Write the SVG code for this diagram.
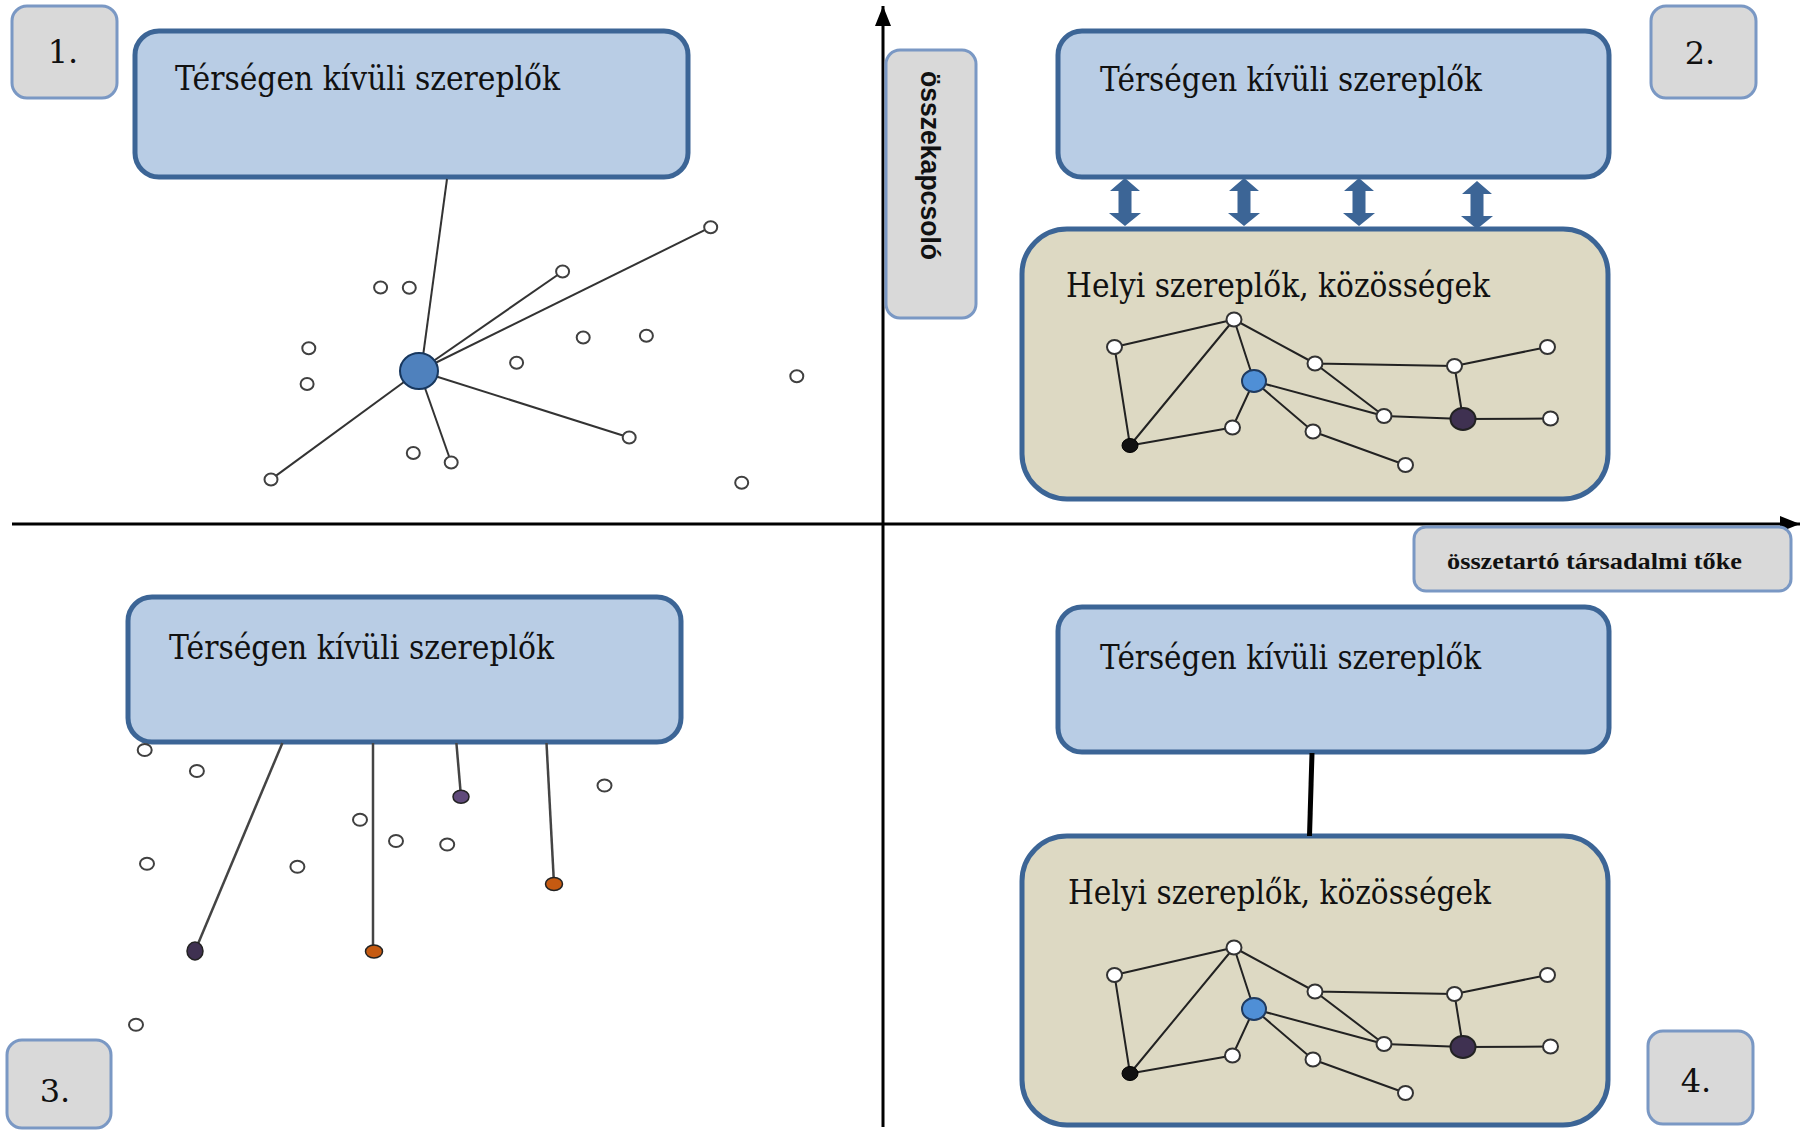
<svg xmlns="http://www.w3.org/2000/svg" xmlns:xlink="http://www.w3.org/1999/xlink" width="1806" height="1130" viewBox="0 0 1806 1130">
<style>
  .lbl{fill:#d9d9d9;stroke:#7a98c4;stroke-width:3}
  .blue{fill:#b9cde5;stroke:#3c6596;stroke-width:5}
  .tan{fill:#ddd9c3;stroke:#3c6596;stroke-width:5}
  .t{font-family:"DejaVu Serif","Liberation Serif",serif;font-size:33px;fill:#111}
  .num{font-family:"DejaVu Serif","Liberation Serif",serif;font-size:32px;fill:#111;text-anchor:middle}
  .ax{stroke:#000;stroke-width:3;fill:none}
  .e1{stroke:#333;stroke-width:2;fill:none}
  .e2{stroke:#222;stroke-width:2;fill:none}
  .e3{stroke:#444;stroke-width:2.5;fill:none}
  .o1{fill:#fff;stroke:#404040;stroke-width:2}
  .o2{fill:#fff;stroke:#333;stroke-width:2}
  .dbl{fill:#3c6596}
</style>
<defs>
  <marker id="axhead" markerUnits="userSpaceOnUse" markerWidth="22" markerHeight="18" refX="20" refY="8" orient="auto">
    <path d="M0,0 L20,8 L0,16 Z" fill="#000"/>
  </marker>
  <path id="dblArrow" d="M0,0 L15,13 L6.5,13 L6.5,35 L16,35 L0,48 L-16,35 L-6.5,35 L-6.5,13 L-15,13 Z"/>
</defs>
<rect width="1806" height="1130" fill="#fff"/>

<g id="axes">
  <line class="ax" x1="12" y1="524" x2="1800" y2="524" marker-end="url(#axhead)"/>
  <line class="ax" x1="883" y1="1127" x2="883" y2="6" stroke-width="2.5" marker-end="url(#axhead)"/>
</g>

<g id="axis-label-vertical">
  <rect class="lbl" x="886" y="50" width="90" height="268" rx="14"/>
  <text transform="translate(921,165.5) rotate(90)" text-anchor="middle" font-family="'Liberation Sans',Arial,sans-serif" font-weight="bold" font-size="28" textLength="189" lengthAdjust="spacingAndGlyphs" fill="#111">összekapcsoló</text>
</g>
<g id="axis-label-horizontal">
  <rect class="lbl" x="1414" y="527" width="377" height="64" rx="12"/>
  <text x="1447" y="569" font-family="'Liberation Serif','Times New Roman',serif" font-weight="bold" font-size="24" textLength="295" lengthAdjust="spacingAndGlyphs" fill="#111">összetartó társadalmi tőke</text>
</g>

<g id="label-1"><rect class="lbl" x="12" y="6" width="105" height="92" rx="15"/><text class="num" x="63" y="63">1.</text></g>
<g id="label-2"><rect class="lbl" x="1651" y="6" width="105" height="92" rx="15"/><text class="num" x="1700" y="64">2.</text></g>
<g id="label-3"><rect class="lbl" x="7" y="1040" width="104" height="88" rx="15"/><text class="num" x="55" y="1102">3.</text></g>
<g id="label-4"><rect class="lbl" x="1648" y="1031" width="105" height="93" rx="15"/><text class="num" x="1696" y="1092">4.</text></g>

<g id="q1-outside"><rect class="blue" x="135" y="31" width="553" height="146" rx="24"/><text class="t" x="175" y="90" textLength="385" lengthAdjust="spacingAndGlyphs">Térségen kívüli szereplők</text></g>
<g id="q2-outside"><rect class="blue" x="1058" y="31" width="551" height="146" rx="24"/><text class="t" x="1100" y="91" textLength="382" lengthAdjust="spacingAndGlyphs">Térségen kívüli szereplők</text></g>
<g id="q2-local"><rect class="tan" x="1022" y="229" width="586" height="270" rx="45"/><text class="t" x="1066" y="297" textLength="424" lengthAdjust="spacingAndGlyphs">Helyi szereplők, közösségek</text></g>
<g id="q3-outside"><rect class="blue" x="128" y="597" width="553" height="145" rx="24"/><text class="t" x="169" y="659" textLength="385" lengthAdjust="spacingAndGlyphs">Térségen kívüli szereplők</text></g>
<g id="q4-outside"><rect class="blue" x="1058" y="607" width="551" height="145" rx="24"/><text class="t" x="1100" y="669" textLength="381" lengthAdjust="spacingAndGlyphs">Térségen kívüli szereplők</text></g>
<g id="q4-local"><rect class="tan" x="1022" y="836" width="586" height="289" rx="45"/><text class="t" x="1068" y="904" textLength="423" lengthAdjust="spacingAndGlyphs">Helyi szereplők, közösségek</text></g>

<g id="connectors">
  <line class="e1" x1="447" y1="179" x2="421" y2="371"/>
  <line class="e1" x1="419" y1="371" x2="710.7" y2="227.2"/>
  <line class="e1" x1="419" y1="371" x2="562.6" y2="271.5"/>
  <line class="e1" x1="419" y1="371" x2="629.2" y2="437.5"/>
  <line class="e1" x1="419" y1="371" x2="451.2" y2="462.5"/>
  <line class="e1" x1="419" y1="371" x2="271" y2="479.4"/>
  <use xlink:href="#dblArrow" class="dbl" x="1125" y="178"/>
  <use xlink:href="#dblArrow" class="dbl" x="1244" y="178"/>
  <use xlink:href="#dblArrow" class="dbl" x="1359" y="178"/>
  <use xlink:href="#dblArrow" class="dbl" x="1477" y="181"/>
  <path class="e2" d="M1114.5,347 L1234,319.5 M1114.5,347 L1130,445.5 M1130,445.5 L1234,319.5 M1130,445.5 L1232.5,427.5 M1234,319.5 L1254,381 M1254,381 L1232.5,427.5 M1234,319.5 L1315,363.5 M1315,363.5 L1454.5,366 M1315,363.5 L1384,416 M1454.5,366 L1547.5,347 M1454.5,366 L1463,419 M1254,381 L1384,416 M1384,416 L1463,419 M1463,419 L1550.5,418.5 M1254,381 L1313,431.5 M1313,431.5 L1405.5,465"/>
  <line class="e3" x1="282.4" y1="743" x2="195" y2="951"/>
  <line class="e3" x1="373" y1="743" x2="373" y2="951"/>
  <line class="e3" x1="456.4" y1="743" x2="461" y2="796.7"/>
  <line class="e3" x1="546.5" y1="743" x2="554" y2="884"/>
  <line x1="1312" y1="753" x2="1309.5" y2="836" stroke="#000" stroke-width="5"/>
  <path class="e2" d="M1114.5,975 L1234,947.5 M1114.5,975 L1130,1073.5 M1130,1073.5 L1234,947.5 M1130,1073.5 L1232.5,1055.5 M1234,947.5 L1254,1009 M1254,1009 L1232.5,1055.5 M1234,947.5 L1315,991.5 M1315,991.5 L1454.5,994 M1315,991.5 L1384,1044 M1454.5,994 L1547.5,975 M1454.5,994 L1463,1047 M1254,1009 L1384,1044 M1384,1044 L1463,1047 M1463,1047 L1550.5,1046.5 M1254,1009 L1313,1059.5 M1313,1059.5 L1405.5,1093"/>
</g>

<g id="q1-nodes">
  <ellipse id="q1-hub" cx="419" cy="371" rx="19" ry="18" fill="#4f81bd" stroke="#17375e" stroke-width="2"/>
  <ellipse id="q1-n1" class="o1" cx="710.7" cy="227.2" rx="6.5" ry="6"/>
  <ellipse id="q1-n2" class="o1" cx="562.6" cy="271.5" rx="6.5" ry="6"/>
  <ellipse id="q1-n3" class="o1" cx="380.6" cy="287.4" rx="6.5" ry="6"/>
  <ellipse id="q1-n4" class="o1" cx="409.3" cy="287.7" rx="6.5" ry="6"/>
  <ellipse id="q1-n5" class="o1" cx="308.8" cy="348.2" rx="6.5" ry="6"/>
  <ellipse id="q1-n6" class="o1" cx="583.2" cy="337.4" rx="6.5" ry="6"/>
  <ellipse id="q1-n7" class="o1" cx="646.4" cy="335.7" rx="6.5" ry="6"/>
  <ellipse id="q1-n8" class="o1" cx="516.6" cy="362.8" rx="6.5" ry="6"/>
  <ellipse id="q1-n9" class="o1" cx="307.1" cy="384" rx="6.5" ry="6"/>
  <ellipse id="q1-n10" class="o1" cx="796.8" cy="376.3" rx="6.5" ry="6"/>
  <ellipse id="q1-n11" class="o1" cx="629.2" cy="437.5" rx="6.5" ry="6"/>
  <ellipse id="q1-n12" class="o1" cx="413.3" cy="453" rx="6.5" ry="6"/>
  <ellipse id="q1-n13" class="o1" cx="451.2" cy="462.5" rx="6.5" ry="6"/>
  <ellipse id="q1-n14" class="o1" cx="271" cy="479.4" rx="6.5" ry="6"/>
  <ellipse id="q1-n15" class="o1" cx="741.7" cy="482.8" rx="6.5" ry="6"/>
</g>

<g id="q2-nodes">
  <ellipse id="q2-a" class="o2" cx="1234" cy="319.5" rx="7.5" ry="7"/>
  <ellipse id="q2-b" class="o2" cx="1114.5" cy="347" rx="7.5" ry="7"/>
  <ellipse id="q2-c" class="o2" cx="1315" cy="363.5" rx="7.5" ry="7"/>
  <ellipse id="q2-d" class="o2" cx="1454.5" cy="366" rx="7.5" ry="7"/>
  <ellipse id="q2-e" class="o2" cx="1547.5" cy="347" rx="7.5" ry="7"/>
  <ellipse id="q2-f" cx="1254" cy="381" rx="12" ry="11" fill="#4f8fd6" stroke="#1f3a5f" stroke-width="2"/>
  <ellipse id="q2-g" class="o2" cx="1384" cy="416" rx="7.5" ry="7"/>
  <ellipse id="q2-h" cx="1463" cy="419" rx="12.5" ry="11" fill="#3f3151" stroke="#222" stroke-width="2"/>
  <ellipse id="q2-i" class="o2" cx="1550.5" cy="418.5" rx="7.5" ry="7"/>
  <ellipse id="q2-j" class="o2" cx="1232.5" cy="427.5" rx="7.5" ry="7"/>
  <ellipse id="q2-k" cx="1130" cy="445.5" rx="8" ry="7" fill="#111" stroke="#000" stroke-width="1"/>
  <ellipse id="q2-l" class="o2" cx="1313" cy="431.5" rx="7.5" ry="7"/>
  <ellipse id="q2-m" class="o2" cx="1405.5" cy="465" rx="7.5" ry="7"/>
</g>

<g id="q3-nodes">
  <ellipse id="q3-n1" class="o1" cx="144.7" cy="750" rx="7" ry="6"/>
  <ellipse id="q3-n2" class="o1" cx="196.9" cy="771.1" rx="7" ry="6"/>
  <ellipse id="q3-p1" cx="461" cy="796.7" rx="8" ry="6.5" fill="#604a7b" stroke="#222" stroke-width="1.5"/>
  <ellipse id="q3-n3" class="o1" cx="604.5" cy="785.6" rx="7" ry="6"/>
  <ellipse id="q3-n4" class="o1" cx="360" cy="819.7" rx="7" ry="6"/>
  <ellipse id="q3-n5" class="o1" cx="396" cy="841.1" rx="7" ry="6"/>
  <ellipse id="q3-n6" class="o1" cx="447.2" cy="844.6" rx="7" ry="6"/>
  <ellipse id="q3-n7" class="o1" cx="147" cy="863.7" rx="7" ry="6"/>
  <ellipse id="q3-n8" class="o1" cx="297.4" cy="866.8" rx="7" ry="6"/>
  <ellipse id="q3-o1" cx="554" cy="884" rx="8.5" ry="6.5" fill="#c55a11" stroke="#222" stroke-width="1.5"/>
  <ellipse id="q3-p2" cx="195" cy="951" rx="8" ry="9" fill="#3f3151" stroke="#222" stroke-width="1.5"/>
  <ellipse id="q3-o2" cx="374" cy="951.5" rx="8.5" ry="6.5" fill="#c55a11" stroke="#222" stroke-width="1.5"/>
  <ellipse id="q3-n9" class="o1" cx="136" cy="1024.8" rx="7" ry="6"/>
</g>

<g id="q4-nodes">
  <ellipse id="q4-a" class="o2" cx="1234" cy="947.5" rx="7.5" ry="7"/>
  <ellipse id="q4-b" class="o2" cx="1114.5" cy="975" rx="7.5" ry="7"/>
  <ellipse id="q4-c" class="o2" cx="1315" cy="991.5" rx="7.5" ry="7"/>
  <ellipse id="q4-d" class="o2" cx="1454.5" cy="994" rx="7.5" ry="7"/>
  <ellipse id="q4-e" class="o2" cx="1547.5" cy="975" rx="7.5" ry="7"/>
  <ellipse id="q4-f" cx="1254" cy="1009" rx="12" ry="11" fill="#4f8fd6" stroke="#1f3a5f" stroke-width="2"/>
  <ellipse id="q4-g" class="o2" cx="1384" cy="1044" rx="7.5" ry="7"/>
  <ellipse id="q4-h" cx="1463" cy="1047" rx="12.5" ry="11" fill="#3f3151" stroke="#222" stroke-width="2"/>
  <ellipse id="q4-i" class="o2" cx="1550.5" cy="1046.5" rx="7.5" ry="7"/>
  <ellipse id="q4-j" class="o2" cx="1232.5" cy="1055.5" rx="7.5" ry="7"/>
  <ellipse id="q4-k" cx="1130" cy="1073.5" rx="8" ry="7" fill="#111" stroke="#000" stroke-width="1"/>
  <ellipse id="q4-l" class="o2" cx="1313" cy="1059.5" rx="7.5" ry="7"/>
  <ellipse id="q4-m" class="o2" cx="1405.5" cy="1093" rx="7.5" ry="7"/>
</g>
</svg>
